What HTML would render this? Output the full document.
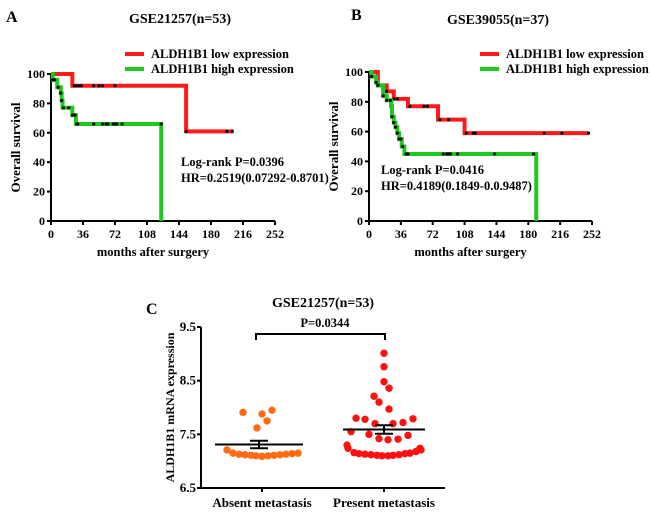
<!DOCTYPE html>
<html><head><meta charset="utf-8"><style>
body{margin:0;background:#fff}
svg text{font-family:"Liberation Serif",serif;font-weight:bold;fill:#000}
</style></head><body>
<svg id="fig" width="650" height="512" viewBox="0 0 650 512" xmlns="http://www.w3.org/2000/svg">
<text x="6" y="22" font-size="16">A</text>
<text x="180" y="23" font-size="14" text-anchor="middle">GSE21257(n=53)</text>
<text x="351" y="20" font-size="16">B</text>
<text x="498" y="24" font-size="14" text-anchor="middle">GSE39055(n=37)</text>
<text x="146" y="314" font-size="16">C</text>
<g id="A"></g>
<g id="B"></g>
<g id="C"></g>
</svg>
<script>
const xTicks=[0,36,72,108,144,180,216,252];
const yTicks=[0,20,40,60,80,100];
const aLowSteps=[[0,100],[24,92],[152,61],[205,61]];
const aLowCensor=[26,28,31,34,48,54,58,72,152,198,204];
const aHighSteps=[[0,100],[2,96],[7,91],[11,87],[12,82],[13,77],[24,72],[28,66],[124,66],[124,0]];
const aHighCensor=[2,4,8,11,12,14,20,24,27,29,30,48,58,62,64,70,72,74,80,124];
const bLowSteps=[[0,100],[10,91],[20,87],[28,82],[44,77],[78,68],[108,59],[248,59]];
const bLowCensor=[10,20,28,32,46,62,66,80,90,110,118,120,198,218,248];
const bHighSteps=[[0,100],[3,97],[8,93],[10,91],[16,84],[20,81],[25,77],[26,70],[28,66],[30,63],[32,59],[34,55],[37,50],[40,45],[189,45],[189,0]];
const bHighCensor=[3,8,10,16,20,24,26,28,30,32,34,36,38,42,44,84,88,90,92,100,142,186];
const cCategories=["Absent metastasis","Present metastasis"];
const cYTicks=[6.5,7.5,8.5,9.5];
const absentVals=[7.91,7.88,7.95,7.62,7.75,7.21,7.15,7.13,7.12,7.11,7.10,7.09,7.10,7.11,7.12,7.13,7.14,7.15];
const absentOff=[-19,0,10,-5,5,-35,-29,-23,-17,-11,-6,0,6,12,18,24,30,36];
const presentVals=[9.01,8.76,8.48,8.36,8.21,8.10,7.97,7.80,7.78,7.70,7.70,7.72,7.79,7.55,7.50,7.42,7.40,7.41,7.48,7.24,7.16,7.14,7.13,7.12,7.11,7.10,7.10,7.11,7.12,7.14,7.15,7.18,7.21,7.24,7.30];
const presentOff=[0,0,0,5,-10,-5,5,-28,-19,-9,9,19,29,-33,-15,-5,4,14,24,-36,-30,-25,-19,-13,-7,-2,4,9,15,21,26,32,37,36,-37];
const cMeans=[7.31,7.59];
const cSem=[0.07,0.08];
const NS='http://www.w3.org/2000/svg';
function mk(p,t,a){const e=document.createElementNS(NS,t);for(const k in a)e.setAttribute(k,a[k]);p.appendChild(e);return e;}
function km(gid,x0,x1,y0,y1,series,legY,legX,txt,txtX,txtY){
 const g=document.getElementById(gid);
 const sx=v=>x0+(x1-x0)*v/252, sy=v=>y0-(y0-y1)*v/100;
 let a=mk(g,'line',{x1:x0,y1:y1-1,x2:x0,y2:y0,stroke:'#000','stroke-width':2});
 
 a=mk(g,'line',{x1:x0,y1:y0,x2:x1,y2:y0,stroke:'#000','stroke-width':2});
 
 yTicks.forEach(t=>{mk(g,'line',{x1:x0-4,x2:x0,y1:sy(t),y2:sy(t),stroke:'#000','stroke-width':2});
  const tx=mk(g,'text',{x:x0-6,y:sy(t)+4,'font-size':12,'text-anchor':'end'});tx.textContent=t;
  });
 xTicks.forEach(t=>{mk(g,'line',{x1:sx(t),x2:sx(t),y1:y0,y2:y0+4,stroke:'#000','stroke-width':2});
  const tx=mk(g,'text',{x:sx(t),y:y0+17,'font-size':12,'text-anchor':'middle'});tx.textContent=t;
  });
 let t=mk(g,'text',{x:(x0+x1)/2-10,y:y0+35,'font-size':12.5,'text-anchor':'middle'});t.textContent='months after surgery';
 
 t=mk(g,'text',{x:0,y:0,'font-size':13,'text-anchor':'middle',transform:`translate(${x0-31},${(y0+y1)/2}) rotate(-90)`});t.textContent='Overall survival';
 
 series.forEach((s,i)=>{
  let d='M'+sx(s.steps[0][0])+','+sy(s.steps[0][1]);
  for(let k=1;k<s.steps.length;k++){d+=' H'+sx(s.steps[k][0])+' V'+sy(s.steps[k][1]);}
  const p=mk(g,'path',{d:d,fill:'none',stroke:s.col,'stroke-width':4});
  
  s.cens.forEach(c=>{let v=s.steps[0][1];for(const st of s.steps){if(st[0]<=c)v=st[1];}
   if(c===s.steps[s.steps.length-1][0]&&s.steps[s.steps.length-1][1]===0)v=s.steps[s.steps.length-2][1];
   const dot=mk(g,'circle',{cx:sx(c),cy:sy(v),r:1.6,fill:'#000'});
   });
  const ly=legY+i*15;
  const l=mk(g,'line',{x1:legX,x2:legX+19,y1:ly,y2:ly,stroke:s.col,'stroke-width':4});
  
  const lt=mk(g,'text',{x:legX+26,y:ly+4,'font-size':12.5});lt.textContent=s.label;
  
 });
 txt.forEach((s,i)=>{const e=mk(g,'text',{x:txtX,y:txtY+i*16,'font-size':12.5});e.textContent=s;
  });
}
km('A',51,275,221,74,[{steps:aLowSteps,cens:aLowCensor,col:'#ff1a1a',name:'low-expression',label:'ALDH1B1 low expression'},{steps:aHighSteps,cens:aHighCensor,col:'#1ec81e',name:'high-expression',label:'ALDH1B1 high expression'}],54,125,['Log-rank P=0.0396','HR=0.2519(0.07292-0.8701)'],181,166);
km('B',369,592,221,72,[{steps:bLowSteps,cens:bLowCensor,col:'#ff1a1a',name:'low-expression',label:'ALDH1B1 low expression'},{steps:bHighSteps,cens:bHighCensor,col:'#1ec81e',name:'high-expression',label:'ALDH1B1 high expression'}],54,480,['Log-rank P=0.0416','HR=0.4189(0.1849-0.0.9487)'],381,174);
(function(){
 const g=document.getElementById('C');
 const x0=201,x1=445,yb=488,yt=327;
 const sy=v=>yb-(yb-yt)*(v-6.5)/3;
 const cx=[262,384];
 let a=mk(g,'line',{x1:x0,y1:yt,x2:x0,y2:yb,stroke:'#000','stroke-width':2});
 
 a=mk(g,'line',{x1:x0,y1:yb,x2:x1,y2:yb,stroke:'#000','stroke-width':2});
 
 cYTicks.forEach(t=>{mk(g,'line',{x1:x0-4,x2:x0,y1:sy(t),y2:sy(t),stroke:'#000','stroke-width':2});
  const tx=mk(g,'text',{x:x0-5,y:sy(t)+4,'font-size':13,'text-anchor':'end'});tx.textContent=t.toFixed(1);
  });
 cCategories.forEach((c,i)=>{mk(g,'line',{x1:cx[i],x2:cx[i],y1:yb,y2:yb+4,stroke:'#000','stroke-width':2});
  const tx=mk(g,'text',{x:cx[i],y:yb+19,'font-size':13,'text-anchor':'middle'});tx.textContent=c;
  });
 let t=mk(g,'text',{x:323,y:307,'font-size':14,'text-anchor':'middle'});t.textContent='GSE21257(n=53)';
 
 t=mk(g,'text',{x:0,y:0,'font-size':12,'text-anchor':'middle',transform:`translate(174,${(yb+yt)/2}) rotate(-90)`});t.textContent='ALDH1B1 mRNA expression';
 
 const br=mk(g,'path',{d:`M${cx[0]-6},340 V334 H${cx[1]+1} V340`,fill:'none',stroke:'#000','stroke-width':2});
 
 t=mk(g,'text',{x:325,y:327,'font-size':12.5,'text-anchor':'middle'});t.textContent='P=0.0344';
 
 const sets=[[absentVals,absentOff,'#ff6a13','absent-point'],[presentVals,presentOff,'#ff1010','present-point']];
 sets.forEach((s,i)=>{s[0].forEach((v,k)=>{const d=mk(g,'circle',{cx:cx[i]+s[1][k],cy:sy(v),r:3.7,fill:s[2]});
   });});
 cMeans.forEach((m,i)=>{const hw=i===0?44:41, c=i===0?cx[0]-3:cx[1];
  const l=mk(g,'line',{x1:c-hw,x2:c+hw,y1:sy(m),y2:sy(m),stroke:'#000','stroke-width':2});
  
  const e=mk(g,'path',{d:`M${c-9},${sy(m+cSem[i])} H${c+9} M${c},${sy(m+cSem[i])} V${sy(m-cSem[i])} M${c-9},${sy(m-cSem[i])} H${c+9}`,stroke:'#000','stroke-width':2,fill:'none'});
  });
})();
</script>
</body></html>
